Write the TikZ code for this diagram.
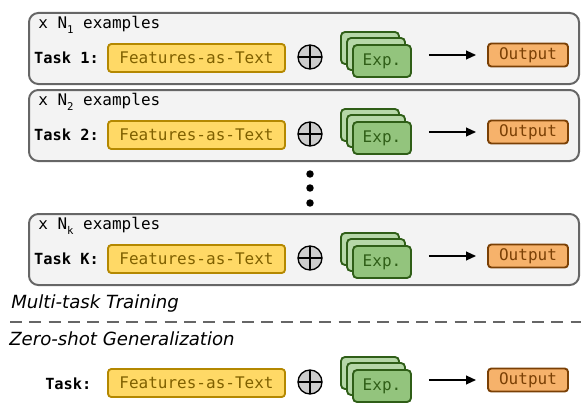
\documentclass[tikz,border=0pt]{standalone}
\usepackage{fontspec}
\setmonofont{DejaVu Sans Mono}
\setsansfont{DejaVu Sans}
\usetikzlibrary{arrows.meta,positioning}
\definecolor{frame}{HTML}{666666}
\definecolor{panel}{HTML}{F3F3F3}
\definecolor{featfill}{HTML}{FFD966}
\definecolor{featline}{HTML}{B48800}
\definecolor{feattext}{HTML}{7F6000}
\definecolor{expfront}{HTML}{93C47D}
\definecolor{expback}{HTML}{B6D7A8}
\definecolor{expline}{HTML}{2F5E17}
\definecolor{outfill}{HTML}{F6B26B}
\definecolor{outline}{HTML}{7A4005}
\definecolor{knob}{HTML}{CCCCCC}
\newcommand{\idx}[1]{\raisebox{-0.5ex}{\fontsize{8}{8}\selectfont #1}}

\begin{document}
\begin{tikzpicture}[x=0.75pt, y=-0.75pt, font=\ttfamily\fontsize{12}{14}\selectfont,
  taskframe/.style={draw=frame, fill=panel, line width=1.5pt, rounded corners=7pt, anchor=north west, minimum width=412.5pt, minimum height=53.25pt},
  feat/.style={draw=featline, fill=featfill, text=feattext, line width=1.4pt, rounded corners=2.5pt, minimum width=132.75pt, minimum height=21pt, inner sep=0pt},
  combine/.style={circle, draw=black, fill=knob, line width=1pt, minimum size=18pt, inner sep=0pt,
    path picture={\draw[line width=0.8pt] (path picture bounding box.north) -- (path picture bounding box.south)
      (path picture bounding box.west) -- (path picture bounding box.east);}},
  expl/.style={draw=expline, fill=expback, line width=1.4pt, rounded corners=3pt, minimum width=43.5pt, minimum height=24pt, inner sep=0pt},
  outbox/.style={draw=outline, fill=outfill, text=outline, line width=1.4pt, rounded corners=2.5pt, minimum width=60pt, minimum height=17.25pt, inner sep=0pt},
  tasklabel/.style={font=\ttfamily\bfseries\fontsize{11.5}{14}\selectfont, inner sep=0pt},
  phase/.style={font=\sffamily\itshape\fontsize{13.6}{15}\selectfont, anchor=west, inner sep=0pt},
  arr/.style={-{Triangle[length=7.5pt,width=6.5pt]}, line width=1.4pt}]
\useasboundingbox (0,0) rectangle (581,403);

% training tasks
\foreach \id/\top/\num/\sub in {1/12/1/1, 2/89/2/2, k/213/K/k}{
  \node[taskframe] (box\id) at (28,\top) {};
  \node[anchor=west, inner sep=0pt] (n\id) at (38,\top+13) {x N\idx{\sub} examples};
  \node[feat] (f\id) at (196.5,\top+46) {Features-as-Text};
  \node[tasklabel, left=6pt of f\id] (l\id) {Task \num:};
  \node[combine] (p\id) at (310,\top+45) {};
  \node[expl] (e\id a) at (370,\top+36) {};
  \node[expl] (e\id b) at (376,\top+42) {};
  \node[expl, fill=expfront, text=expline] (e\id c) at (382,\top+49) {Exp.};
  \node[outbox] (o\id) at (528,\top+43) {Output};
  \draw[arr, shorten <=12.75pt, shorten >=8.25pt] (e\id c.east |- o\id.west) -- (o\id.west);
}
\foreach \y in {174,188,203} \fill (310,\y) circle (2.8pt);

% phases
\node[phase] (train) at (11,303) {Multi-task Training};
\draw[frame, line width=1.5pt, dash pattern=on 9pt off 5.5pt] (10,322) -- (581,322);
\node[phase] (zero) at (9,339) {Zero-shot Generalization};

% zero-shot task
\node[feat] (fz) at (196.5,383) {Features-as-Text};
\node[tasklabel, anchor=west] (lz) at (45,384) {Task:};
\node[combine] (pz) at (310,382) {};
\node[expl] (eza) at (370,373) {};
\node[expl] (ezb) at (376,379) {};
\node[expl, fill=expfront, text=expline] (ezc) at (382,386) {Exp.};
\node[outbox] (oz) at (528,380) {Output};
\draw[arr, shorten <=12.75pt, shorten >=8.25pt] (ezc.east |- oz.west) -- (oz.west);
\end{tikzpicture}
\end{document}
